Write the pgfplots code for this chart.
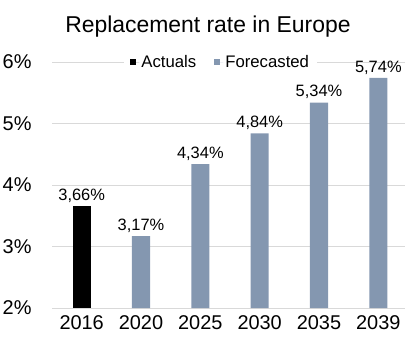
\documentclass[border=0pt]{standalone}
\usepackage{pgfplots}
\pgfplotsset{compat=1.18}
\usepackage{fontspec}
\setmainfont{Liberation Sans}
\definecolor{fc}{HTML}{8497B0}
\definecolor{gridc}{HTML}{D9D9D9}
\begin{document}
\begin{tikzpicture}
\begin{axis}[
  at={(0,0)}, anchor=south west,
  scale only axis, width=356bp, height=246bp,
  xmin=-0.5, xmax=5.5, ymin=2, ymax=6,
  xtick={0,1,2,3,4,5},
  xticklabels={2016,2020,2025,2030,2035,2039},
  ytick={2,3,4,5,6},
  yticklabel={\pgfmathprintnumber{\tick}\%},
  /pgf/number format/assume math mode=true,
  axis line style={draw=none},
  major tick length=0pt,
  ymajorgrids, grid style={gridc, line width=0.8bp},
  ticklabel style={font=\fontsize{20}{24}\selectfont},
  yticklabel style={xshift=-17bp},
  xticklabel style={yshift=-4bp},
  title={Replacement rate in Europe},
  title style={font=\fontsize{23}{27}\selectfont, at={(0.438,1)}, anchor=south, yshift=15bp},
  legend columns=2,
  legend style={at={(0.474,1)}, anchor=center, draw=none, fill=white,
    font=\fontsize{16.8}{20}\selectfont, inner xsep=6bp, inner ysep=1bp,
    /tikz/every even column/.append style={column sep=16bp}},
  bar width=18bp,
  nodes near coords={\pgfmathprintnumber[fixed,fixed zerofill,precision=2,use comma]{\pgfplotspointmeta}\%},
  nodes near coords style={font=\fontsize{16.5}{20}\selectfont, black},
  clip=false,
]
\addplot[ybar, fill=black, draw=none, legend image code/.code={\fill[black] (0bp,-3bp) rectangle (6bp,3bp); \path (0bp,0bp) -- (9bp,0bp);}]
  coordinates {(0,3.66)};
\addlegendentry{Actuals}
\addplot[ybar, fill=fc, draw=none, legend image code/.code={\fill[fc] (0bp,-3bp) rectangle (6bp,3bp); \path (0bp,0bp) -- (9bp,0bp);}]
  coordinates {(1,3.17) (2,4.34) (3,4.84) (4,5.34) (5,5.74)};
\addlegendentry{Forecasted}
\end{axis}
\pgfresetboundingbox
\useasboundingbox (-52bp,-34bp) rectangle (353bp,308bp);
\end{tikzpicture}
\end{document}
